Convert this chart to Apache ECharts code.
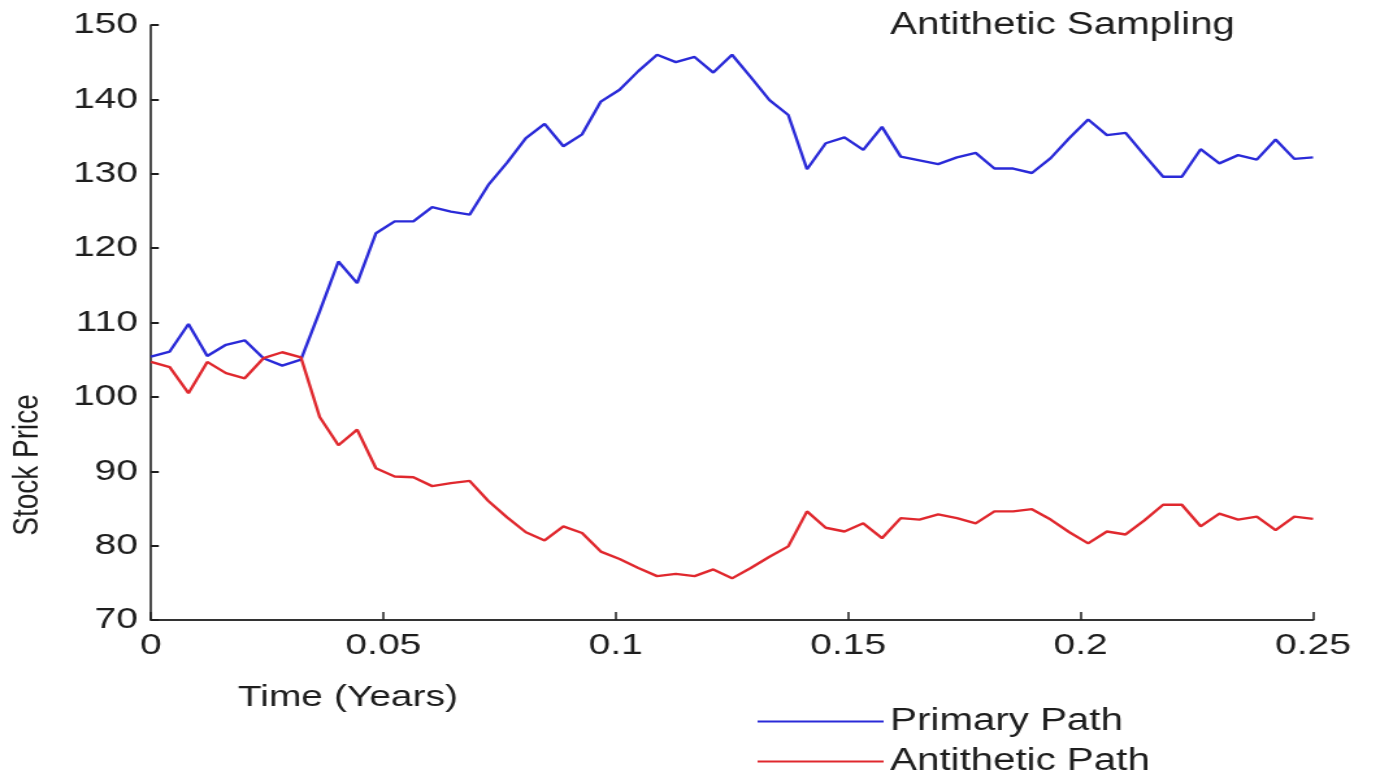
<!DOCTYPE html>
<html>
<head>
<meta charset="utf-8">
<script src="https://cdn.jsdelivr.net/npm/echarts@6/dist/echarts.min.js"></script>
<style>
html,body{margin:0;padding:0;background:#fff;overflow:hidden}
#c{width:1069px;height:771px;transform:scaleX(1.2994);transform-origin:0 0}
</style>
</head>
<body>
<div id="c"></div>
<script>
var times = [0, 0.00403, 0.00806, 0.01210, 0.01613, 0.02016, 0.02419, 0.02823, 0.03226, 0.03629, 0.04032, 0.04435, 0.04839, 0.05242, 0.05645, 0.06048, 0.06452, 0.06855, 0.07258, 0.07661, 0.08065, 0.08468, 0.08871, 0.09274, 0.09677, 0.10081, 0.10484, 0.10887, 0.11290, 0.11694, 0.12097, 0.12500, 0.12903, 0.13306, 0.13710, 0.14113, 0.14516, 0.14919, 0.15323, 0.15726, 0.16129, 0.16532, 0.16935, 0.17339, 0.17742, 0.18145, 0.18548, 0.18952, 0.19355, 0.19758, 0.20161, 0.20565, 0.20968, 0.21371, 0.21774, 0.22177, 0.22581, 0.22984, 0.23387, 0.23790, 0.24194, 0.24597, 0.25000];
var primaryPath = [105.4,106.1,109.8,105.5,107.0,107.6,105.2,104.2,105.0,
  111.5,118.2,115.3,122.0,123.6,123.6,125.5,124.9,124.5,
  128.5,131.5,134.8,136.7,133.7,135.3,139.7,141.3,143.8,
  146.0,145.0,145.7,143.6,146.0,143.0,139.9,137.9,130.6,
  134.1,134.9,133.2,136.3,132.3,131.8,131.3,132.2,132.8,
  130.7,130.7,130.1,132.1,134.8,137.3,135.2,135.5,132.5,
  129.6,129.6,133.3,131.4,132.5,131.9,134.6,132.0,132.2];
var antitheticPath = [104.7,104.0,100.5,104.7,103.2,102.5,105.2,106.0,105.3,
  97.3,93.5,95.6,90.4,89.3,89.2,88.0,88.4,88.7,
  86.0,83.8,81.8,80.7,82.6,81.7,79.2,78.2,77.0,
  75.9,76.2,75.9,76.8,75.6,77.0,78.5,79.9,84.6,
  82.4,81.9,83.0,81.0,83.7,83.5,84.2,83.7,83.0,
  84.6,84.6,84.9,83.5,81.8,80.3,81.9,81.5,83.4,
  85.5,85.5,82.6,84.3,83.5,83.9,82.1,83.9,83.6];
var seriesNames = ['Primary Path', 'Antithetic Path'];
var titleText = 'Antithetic Sampling';
var xAxisName = 'Time (Years)';
var yAxisName = 'Stock Price';

function pairs(ys) { return ys.map(function (v, i) { return [times[i], v]; }); }

var font = 'Liberation Sans, Arial, sans-serif';
var ink = '#1e1e1e';
var blue = '#2a2ad8';
var red = '#e0282e';
var chart = echarts.init(document.getElementById('c'), null, {renderer: 'canvas'});
chart.setOption({
  backgroundColor: '#fff',
  animation: false,
  title: [{
    text: titleText, left: 680, top: 5,
    textStyle: {fontFamily: font, fontSize: 31, fontWeight: 'normal', color: ink}
  }, {
    text: xAxisName, left: 178, top: 678,
    textStyle: {fontFamily: font, fontSize: 30, fontWeight: 'normal', color: ink}
  }],
  graphic: [{
    type: 'text', x: 21, y: 465, rotation: Math.PI / 2,
    style: {text: yAxisName, fontFamily: font, fontSize: 28, fill: ink, textAlign: 'center', textVerticalAlign: 'middle'}
  }],
  legend: [{
    orient: 'vertical', left: 578, top: 701,
    itemWidth: 97, itemHeight: 2, icon: 'rect',
    textStyle: {fontFamily: font, fontSize: 31, color: ink},
    data: [seriesNames[0]]
  }, {
    orient: 'vertical', left: 578, top: 741,
    itemWidth: 97, itemHeight: 2, icon: 'rect',
    textStyle: {fontFamily: font, fontSize: 31, color: ink},
    data: [seriesNames[1]]
  }],
  grid: {left: 116.2, right: 58.5, top: 25, bottom: 151, containLabel: false},
  xAxis: {
    type: 'value', min: 0, max: 0.25, interval: 0.05,
    axisLine: {show: true, lineStyle: {color: '#333', width: 2}},
    axisTick: {show: true, inside: true, length: 8, lineStyle: {color: ink, width: 1.5}},
    axisLabel: {fontFamily: font, fontSize: 30, color: ink, margin: 11,
      formatter: function (v) { return String(+v.toFixed(2)); }},
    splitLine: {show: false}
  },
  yAxis: {
    type: 'value', min: 70, max: 150, interval: 10,
    axisLine: {show: true, lineStyle: {color: ink, width: 1.6}},
    axisTick: {show: true, inside: true, length: 6, lineStyle: {color: ink, width: 2}},
    axisLabel: {fontFamily: font, fontSize: 30, color: ink, margin: 10},
    splitLine: {show: false}
  },
  series: [{
    name: seriesNames[0], type: 'line', data: pairs(primaryPath),
    symbol: 'none', lineStyle: {color: blue, width: 2.4}, itemStyle: {color: blue}
  }, {
    name: seriesNames[1], type: 'line', data: pairs(antitheticPath),
    symbol: 'none', lineStyle: {color: red, width: 2.4}, itemStyle: {color: red}
  }]
});
</script>
</body>
</html>
